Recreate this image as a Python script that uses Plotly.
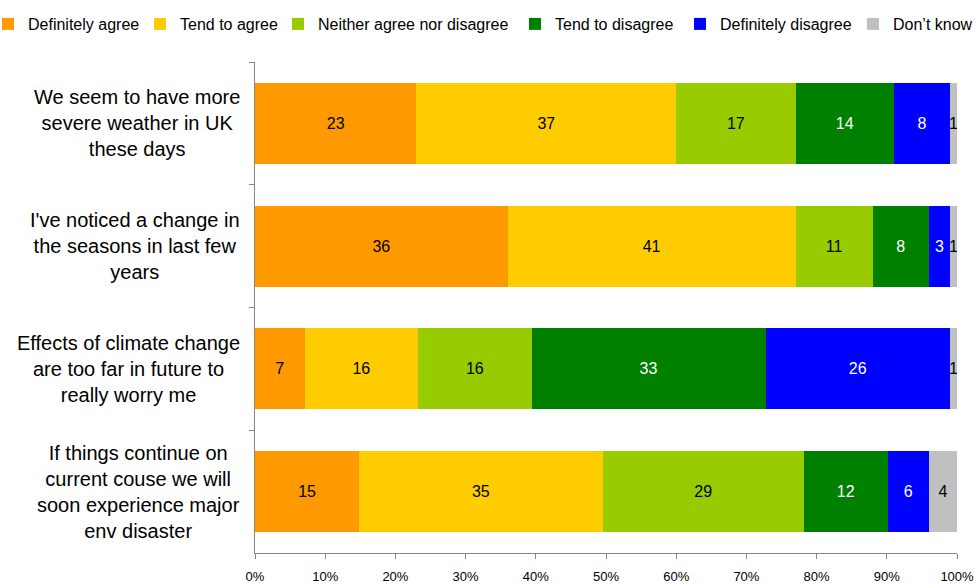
import plotly.graph_objects as go

categories = [
    "We seem to have more<br>severe weather in UK<br>these days",
    "I've noticed a change in<br>the seasons in last few<br>years",
    "Effects of climate change<br>are too far in future to<br>really worry me",
    "If things continue on<br>current couse we will<br>soon experience major<br>env disaster",
]
series_names = ["Definitely agree", "Tend to agree", "Neither agree nor disagree",
                "Tend to disagree", "Definitely disagree", "Don\u2019t know"]
definitely_agree = [23, 36, 7, 15]
tend_to_agree = [37, 41, 16, 35]
neither = [17, 11, 16, 29]
tend_to_disagree = [14, 8, 33, 12]
definitely_disagree = [8, 3, 26, 6]
dont_know = [1, 1, 1, 4]

series_values = [definitely_agree, tend_to_agree, neither, tend_to_disagree,
                 definitely_disagree, dont_know]
colors = ["#FF9900", "#FFCC00", "#99CC00", "#008000", "#0000FF", "#C0C0C0"]
text_colors = ["black", "black", "black", "white", "white", "black"]

FONT = "Liberation Sans, Arial, sans-serif"
W, H = 975, 584
ML, MR, MT, MB = 255, 18, 62, 31
PW = W - ML - MR
PH = H - MT - MB

# legend text start positions (px)
legend_text_px = [28, 180, 318, 555, 720, 893]

fig = go.Figure()
for i, (name, vals) in enumerate(zip(series_names, series_values)):
    lg = "legend" if i == 0 else f"legend{i+1}"
    fig.add_trace(go.Bar(
        y=categories, x=vals, name=name, orientation="h",
        marker=dict(color=colors[i], line=dict(width=0)),
        text=vals, texttemplate="%{text}", textposition="inside",
        insidetextanchor="middle", textangle=0,
        insidetextfont=dict(color=text_colors[i], size=16, family=FONT),
        legend=lg, showlegend=True, hoverinfo="skip",
    ))

layout_legends = {}
for i, tx in enumerate(legend_text_px):
    key = "legend" if i == 0 else f"legend{i+1}"
    layout_legends[key] = dict(
        x=(tx - 40 - ML) / PW, xanchor="left", xref="paper",
        y=1 + (MT - 24) / PH, yanchor="middle", yref="paper",
        orientation="h", font=dict(family=FONT, size=16, color="black"),
        bgcolor="rgba(0,0,0,0)", borderwidth=0,
    )

annotations = []
for c in categories:
    annotations.append(dict(
        text=c, x=0, xref="paper", xanchor="right", xshift=-13,
        y=c, yref="y", yanchor="middle", showarrow=False, align="center",
        font=dict(family=FONT, size=20, color="black"),
    ))

fig.update_layout(
    width=W, height=H, showlegend=True,
    margin=dict(l=ML, r=MR, t=MT, b=MB, autoexpand=False),
    paper_bgcolor="white", plot_bgcolor="white",
    barmode="stack", barnorm="percent", bargap=0.34,
    font=dict(family=FONT, color="black"),
    annotations=annotations,
    uniformtext=dict(minsize=16, mode="show"),
    **layout_legends,
)
fig.update_xaxes(
    range=[0, 100], tickmode="linear", tick0=0, dtick=10, ticksuffix="%",
    showticksuffix="all",
    showgrid=False, zeroline=False, showline=True, linecolor="#868686", linewidth=1,
    ticks="outside", ticklen=5, tickcolor="#868686",
    tickfont=dict(family=FONT, size=13, color="black"), ticklabelstandoff=6,
)
fig.update_yaxes(
    autorange="reversed", showticklabels=False, showgrid=False, zeroline=False,
    showline=True, linecolor="#868686", linewidth=1,
    ticks="outside", ticklen=5, tickcolor="#868686", tickson="boundaries",
)
fig.write_html("out.html")
